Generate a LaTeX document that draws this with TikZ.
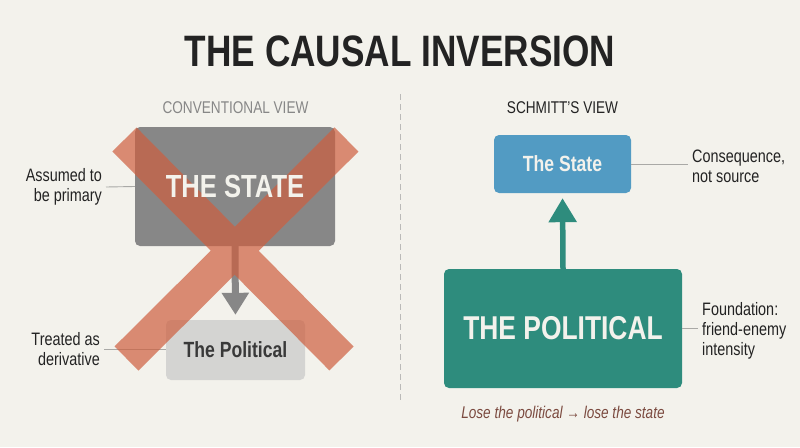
\documentclass[tikz,border=0pt]{standalone}
\usepackage{fontspec}
\setmainfont{Liberation Sans}[FakeStretch=0.8]
\usetikzlibrary{arrows.meta}
\definecolor{paper}{HTML}{F3F2EC}
\definecolor{ink}{HTML}{232323}
\definecolor{stategray}{HTML}{878787}
\definecolor{polgray}{HTML}{D4D4D2}
\definecolor{stateblue}{HTML}{529BC3}
\definecolor{polteal}{HTML}{2E8C7D}
\definecolor{cross}{HTML}{CE5F3F}
\definecolor{tieline}{HTML}{A9A9A6}
\definecolor{moral}{HTML}{7B4A3F}
\newcommand{\fs}[1]{\fontsize{#1}{1.2\dimexpr#1pt\relax}\selectfont}
\begin{document}
\begin{tikzpicture}[x=1pt,y=-1pt,
    box/.style={rounded corners=5pt, inner sep=0pt},
    note/.style={text=ink, font=\fontsize{18}{20}\selectfont, inner sep=4pt},
    tie/.style={draw=tieline, line width=.9pt}]
  % ------ background and frame -------------------
  \useasboundingbox[fill=paper] (0,0) rectangle (800,447);
  \node (title) at (400,51) {\fs{44}\bfseries\color{ink}THE CAUSAL INVERSION};
  \draw [draw=tieline!80, line width=1pt, dash pattern=on 6pt off 4pt] (400,94) -- (400,403);
  % ------ conventional view ----------------------
  \node (headL) at (235.5,108) {\fs{17}\color{stategray}CONVENTIONAL VIEW};
  \node [box, fill=stategray, minimum width=200pt, minimum height=119pt] (stateL) at (235,186.5) {};
  \node [box, fill=polgray, minimum width=139pt, minimum height=60pt] (polL) at (235.5,350) {};
  \draw [draw=stategray, line width=7pt, -{Triangle[length=22pt,width=26pt]}, shorten >=5pt]
        (stateL.south) -- (polL.north);
  \node [note, anchor=east, align=right] (primary) at (106,187) {Assumed to\\be primary};
  \draw [tie] (primary.east) -- (stateL.west);
  \node [note, anchor=east, align=right] (deriv) at (104,349) {Treated as\\derivative};
  \draw [tie] (deriv.east) -- (deriv.east -| polL.west);
  % the cross, under the box texts
  \draw [draw=cross, draw opacity=.7, line width=34pt]
        (124.5,139.5) -- (341.5,358.5) (346.5,139.5) -- (126.5,358.5);
  \node at (stateL) {\fs{32}\bfseries\color{paper}THE STATE};
  \node at (polL) {\fs{22}\bfseries\color{ink!90}The Political};
  % ------ schmitt's view -------------------------
  \node (headR) at (562.5,108) {\fs{17}\color{ink}SCHMITT'S VIEW};
  \node [box, fill=stateblue, minimum width=137pt, minimum height=58pt] (stateR) at (562.5,164)
        {\fs{22}\bfseries\color{paper}The State};
  \node [box, fill=polteal, minimum width=238pt, minimum height=119pt] (polR) at (563,328.5)
        {\fs{33}\bfseries\color{paper}THE POLITICAL};
  \draw [draw=polteal, line width=5.5pt, -{Triangle[length=24pt,width=27pt]}, shorten >=5pt]
        (polR.north) -- (stateR.south);
  \node [note, anchor=west, align=left] (conseq) at (688,166) {Consequence,\\not source};
  \draw [tie] (stateR.east) -- (stateR.east -| conseq.west);
  \node [note, anchor=west, align=left] (found) at (698,331) {Foundation:\\friend-enemy\\intensity};
  \draw [tie] (polR.east) -- (polR.east -| found.west);
  \node (moral) at (563,414) {\fs{17}\itshape\color{moral}Lose the political → lose the state};
\end{tikzpicture}
\end{document}
